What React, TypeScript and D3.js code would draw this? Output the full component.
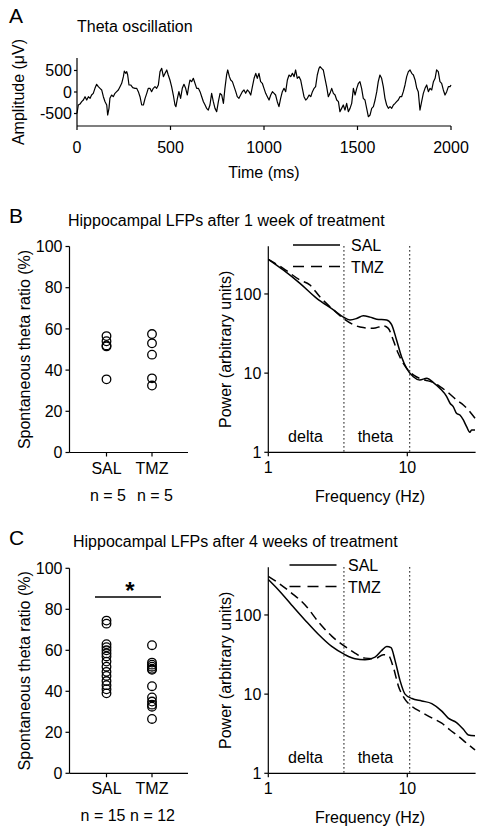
import React from "react";
import * as d3 from "d3";

const FONT = "'Liberation Sans', Arial, Helvetica, sans-serif";

// ---------- Panel A : theta trace ----------
const traceTime = [
  0,7,16,25,34,43,52,61,70,78,87,96,105,114,123,132,141,150,159,164,171,176,185,194,203,212,221,230,239,248,253,260,266,271,278,287,298,310,319,328,337,346,355,364,373,381,390,399,408,417,426,435,444,453,462,471,480,488,497,506,515,524,529,537,545,554,563,572,581,590,597,604,613,622,
  640,649,658,667,676,685,693,702,711,720,729,738,747,756,765,774,783,791,800,806,815,822,831,840,849,857,866,875,884,893,902,911,920,929,938,947,956,964,973,982,991,1000,1009,1018,1027,1036,1045,1054,1062,1071,1080,1089,1098,1107,1116,1125,1134,1143,1152,1161,1169,1178,1187,1196,1205,1214,1223,1232,1241,1250,1259,1268,1276,1285,1294,
  1300,1308,1317,1326,1335,1344,1353,1362,1371,1380,1389,1398,1406,1415,1424,1433,1442,1451,1460,1469,1478,1487,1496,1505,1513,1522,1531,1540,1549,1558,1567,1576,1585,1594,1603,1611,1620,1629,1638,1647,1656,1665,1674,1683,1692,1701,1709,1718,1727,1736,1745,1754,1763,1772,1781,1790,1799,1808,1817,1825,1834,1843,1852,1861,1870,1879,1888,1897,1906,1915,1923,1932,1941,1950,1959,1968,1977,1986,1995,2000,
];
const traceAmp = [
  -496,-302,-280,-225,-186,-109,-186,-109,-147,-70,-31,85,178,124,85,47,-109,-225,-302,-535,-380,-147,-70,-109,-31,8,47,124,202,357,488,434,473,395,163,163,100,85,85,8,-109,-302,-302,-147,-31,85,85,8,85,124,85,163,473,550,357,434,512,395,279,124,-70,-302,-341,-147,8,-147,85,178,85,-70,124,279,240,318,
  85,85,8,-109,-225,-302,-380,-419,-302,-31,-225,-380,-457,-225,-31,-70,-264,85,395,512,357,279,240,124,8,-109,-147,-70,8,47,-31,47,8,-70,124,318,434,318,434,240,202,85,-31,-109,-186,-70,8,-31,-70,-225,-341,-147,8,85,8,279,395,357,434,357,512,318,357,279,85,-109,-186,-147,-70,-109,8,85,124,395,550,
  589,550,512,318,124,-109,-31,85,-31,-70,-186,-225,-457,-380,-302,-419,-264,-457,-380,-264,85,-70,85,202,240,85,-147,-186,-380,-574,-535,-380,-341,-186,8,240,395,318,124,-147,-302,-380,-341,-380,-302,-264,-225,-186,-109,-109,8,163,357,473,512,434,395,279,85,8,-419,-225,-31,85,163,8,85,47,240,318,512,473,240,202,47,-70,8,124,124,163,
];
const timeTicks = [0, 500, 1000, 1500, 2000];
const ampTicks = [-500, 0, 500];

// ---------- Scatter data ----------
const groups = ["SAL", "TMZ"];
const bSal = [56.5, 54, 52, 51.5, 35.5];
const bTmz = [57.5, 53, 47.5, 36, 32.5];
const cSal = [74.5, 73, 63, 61.5, 60, 58.5, 57, 54.5, 52, 49.5, 47.5, 45, 43, 41, 39];
const cTmz = [62.5, 54, 53, 52, 51, 50.5, 42.5, 37, 35, 33.5, 32.5, 26.5];
const ratioTicks = [0, 20, 40, 60, 80, 100];
const bN = ["n = 5", "n = 5"];
const cN = ["n = 15", "n = 12"];

// ---------- Spectra ----------
const bSalFreq = [1, 1.28, 1.69, 2.23, 2.94, 3.47, 3.87, 4.32, 4.82, 5.39, 6.02, 7.1, 7.71, 8.38, 9.1, 9.89, 11.04, 12.3, 13.8, 15.4, 17.2, 19.2, 20.3, 21.4, 22.6, 23.9, 25.3, 26.7, 28.2, 29, 30.7];
const bSalPow = [274, 201, 136, 88, 63, 51, 47, 49, 53, 51, 48, 47, 41, 26, 16, 11.5, 9.0, 8.2, 8.6, 7.6, 6.4, 5.05, 4.16, 3.78, 3.11, 2.96, 2.56, 2.11, 1.79, 1.91, 1.91];
const bTmzFreq = [1, 1.28, 1.69, 1.99, 2.35, 2.94, 3.47, 4.08, 4.82, 5.69, 6.72, 7.3, 7.93, 8.6, 9.36, 10.1, 11.6, 13.4, 15.4, 17.2, 19.7, 22.6, 25.3, 28.2, 30.7];
const bTmzPow = [274, 211, 150, 130, 92, 63, 49, 41, 37.6, 36.8, 39.4, 36.8, 26, 17.8, 13.3, 11, 9.0, 8.2, 7.6, 6.75, 5.67, 4.58, 3.96, 3.26, 2.69];
const cSalFreq = [1, 1.18, 1.47, 1.84, 2.29, 2.86, 3.56, 4.2, 4.96, 5.86, 6.55, 7.11, 7.64, 8.16, 8.87, 9.63, 10.8, 12.7, 15, 17.7, 19.7, 22.6, 25.3, 27.5, 30.7];
const cSalPow = [280, 208, 134, 86, 57, 40, 31.5, 28, 27.2, 29.4, 35.7, 40, 38.6, 26.7, 14.8, 10, 8.8, 8.2, 7.6, 6.1, 4.97, 4.37, 3.6, 3.05, 2.97];
const cTmzFreq = [1, 1.18, 1.47, 1.84, 2.29, 2.86, 3.56, 4.2, 4.96, 5.86, 6.73, 7.3, 7.93, 8.61, 9.63, 10.8, 12.7, 15, 17.7, 20.2, 23, 26.7, 30.7];
const cTmzPow = [308, 254, 189, 134, 82, 54, 40, 33, 28.5, 28, 31.5, 30.8, 21.9, 12.8, 8.6, 7.0, 5.9, 5.0, 4.3, 3.55, 3.0, 2.4, 1.97];
const powTicks = [1, 10, 100];
const freqTicks = [1, 10];
const bandEdges = [3.5, 10.4];
const bandLabels = [
  { name: "delta", f: 1.85 },
  { name: "theta", f: 5.9 },
];

const FS = 16;

function ScatterPanel({ top0, top100, sal, tmz, nLabels, nX, sig }) {
  const y = d3.scaleLinear().domain([0, 100]).range([top0, top100]);
  const x = d3.scalePoint().domain(groups).range([106.5, 152]);
  const axX = 69.5;
  const series = [sal, tmz];
  return (
    <g>
      <line x1={axX} x2={axX} y1={y(0)} y2={y(100)} stroke="#000" strokeWidth={1.2} />
      <line x1={axX} x2={188} y1={y(0)} y2={y(0)} stroke="#000" strokeWidth={1.2} />
      {ratioTicks.map((t) => (
        <g key={t}>
          <line x1={axX - 4} x2={axX} y1={y(t)} y2={y(t)} stroke="#000" strokeWidth={1.2} />
          <text x={axX - 7} y={y(t)} dy="0.35em" textAnchor="end" fontSize={FS}>{t}</text>
        </g>
      ))}
      {groups.map((g, i) => (
        <g key={g}>
          <line x1={x(g)} x2={x(g)} y1={y(0)} y2={y(0) + 4} stroke="#000" strokeWidth={1.2} />
          <text x={x(g)} y={y(0) + 21} textAnchor="middle" fontSize={FS}>{g}</text>
          <text x={nX[i]} y={y(0) + 48} textAnchor="middle" fontSize={FS}>{nLabels[i]}</text>
          {series[i].map((v, j) => (
            <circle key={j} cx={x(g)} cy={y(v)} r={4.3} fill="none" stroke="#000" strokeWidth={1.3} />
          ))}
        </g>
      ))}
      <text transform={`translate(30,${(y(0) + y(100)) / 2}) rotate(-90)`} textAnchor="middle" fontSize={FS}>
        Spontaneous theta ratio (%)
      </text>
      {sig && (
        <g>
          <line x1={95} x2={161} y1={y(86)} y2={y(86)} stroke="#000" strokeWidth={1.3} />
          <text x={130} y={y(86) + 2} textAnchor="middle" fontSize={24} fontWeight="bold">*</text>
        </g>
      )}
    </g>
  );
}

function SpectrumPanel({ bottom, salF, salP, tmzF, tmzP, legX, legY, legTextX }) {
  const x = d3.scaleLog().domain([1, 31]).range([268.3, 475.6]);
  const y = d3.scaleLog().domain([1, 400]).range([bottom, bottom - 206]);
  const line = d3
    .line<[number, number]>()
    .x((d) => x(d[0]))
    .y((d) => y(d[1]))
    .curve(d3.curveMonotoneX);
  const sal = salF.map((f, i) => [f, salP[i]] as [number, number]);
  const tmz = tmzF.map((f, i) => [f, tmzP[i]] as [number, number]);
  return (
    <g>
      {bandEdges.map((f) => (
        <line key={f} x1={x(f)} x2={x(f)} y1={y(400)} y2={y(1)} stroke="#000" strokeWidth={1.2} strokeDasharray="1.2,2.8" />
      ))}
      <line x1={x(1)} x2={x(1)} y1={y(1)} y2={y(400)} stroke="#000" strokeWidth={1.2} />
      <line x1={x(1)} x2={x(31)} y1={y(1)} y2={y(1)} stroke="#000" strokeWidth={1.2} />
      {powTicks.map((t) => (
        <g key={t}>
          <line x1={x(1) - 4} x2={x(1)} y1={y(t)} y2={y(t)} stroke="#000" strokeWidth={1.2} />
          <text x={x(1) - 7} y={y(t)} dy="0.35em" textAnchor="end" fontSize={FS}>{t}</text>
        </g>
      ))}
      {freqTicks.map((t) => (
        <g key={t}>
          <line x1={x(t)} x2={x(t)} y1={y(1)} y2={y(1) + 4} stroke="#000" strokeWidth={1.2} />
          <text x={x(t)} y={y(1) + 21} textAnchor="middle" fontSize={FS}>{t}</text>
        </g>
      ))}
      <path d={line(sal) || ""} fill="none" stroke="#000" strokeWidth={1.5} />
      <path d={line(tmz) || ""} fill="none" stroke="#000" strokeWidth={1.5} strokeDasharray="9,5" />
      {bandLabels.map((b) => (
        <text key={b.name} x={x(b.f)} y={y(1) - 10} textAnchor="middle" fontSize={FS}>{b.name}</text>
      ))}
      <line x1={legX} x2={legX + 47} y1={legY} y2={legY} stroke="#000" strokeWidth={1.5} />
      <text x={legTextX} y={legY + 6} fontSize={FS}>SAL</text>
      <line x1={legX} x2={legX + 47} y1={legY + 21.5} y2={legY + 21.5} stroke="#000" strokeWidth={1.5} strokeDasharray="11,7" />
      <text x={legTextX} y={legY + 27.5} fontSize={FS}>TMZ</text>
      <text transform={`translate(231,${bottom - 103}) rotate(-90)`} textAnchor="middle" fontSize={FS}>
        Power (arbitrary units)
      </text>
      <text x={370} y={y(1) + 50} textAnchor="middle" fontSize={FS}>Frequency (Hz)</text>
    </g>
  );
}

export default function App() {
  const xA = d3.scaleLinear().domain([0, 2000]).range([77, 451]);
  const yA = d3.scaleLinear().domain([-790, 790]).range([126, 58]);
  const trace = d3
    .line<number>()
    .x((_, i) => xA(traceTime[i]))
    .y((d) => yA(d));
  return (
    <svg
      width={482}
      height={832}
      style={{ position: "absolute", left: 0, top: 0, background: "#fff" }}
      fontFamily={FONT}
      fill="#000"
    >
      <rect x={0} y={0} width={482} height={832} fill="#fff" />
      {/* Panel A */}
      <text x={9} y={23} fontSize={21}>A</text>
      <text x={77} y={32} fontSize={FS}>Theta oscillation</text>
      <line x1={77} x2={77} y1={58} y2={126} stroke="#000" strokeWidth={1.2} />
      <line x1={77} x2={451} y1={126} y2={126} stroke="#000" strokeWidth={1.2} />
      {ampTicks.map((t) => (
        <g key={t}>
          <line x1={74} x2={77} y1={yA(t)} y2={yA(t)} stroke="#000" strokeWidth={1.2} />
          <text x={72} y={yA(t)} dy="0.35em" textAnchor="end" fontSize={FS}>{t}</text>
        </g>
      ))}
      {timeTicks.map((t) => (
        <g key={t}>
          <line x1={xA(t)} x2={xA(t)} y1={126} y2={130} stroke="#000" strokeWidth={1.2} />
          <text x={xA(t)} y={153} textAnchor="middle" fontSize={FS}>{t}</text>
        </g>
      ))}
      <path d={trace(traceAmp) || ""} fill="none" stroke="#000" strokeWidth={1.2} strokeLinejoin="round" />
      <text transform="translate(24,92) rotate(-90)" textAnchor="middle" fontSize={FS}>Amplitude (μV)</text>
      <text x={264} y={178} textAnchor="middle" fontSize={FS}>Time (ms)</text>

      {/* Panel B */}
      <text x={9} y={223} fontSize={21}>B</text>
      <text x={68} y={226} fontSize={FS}>Hippocampal LFPs after 1 week of treatment</text>
      <ScatterPanel top0={452.5} top100={246.5} sal={bSal} tmz={bTmz} nLabels={bN} nX={[108, 155]} sig={false} />
      <SpectrumPanel bottom={452.3} salF={bSalFreq} salP={bSalPow} tmzF={bTmzFreq} tmzP={bTmzPow} legX={293} legY={245} legTextX={351} />

      {/* Panel C */}
      <text x={9} y={545} fontSize={21}>C</text>
      <text x={73} y={547} fontSize={FS}>Hippocampal LFPs after 4 weeks of treatment</text>
      <ScatterPanel top0={773.3} top100={568.3} sal={cSal} tmz={cTmz} nLabels={cN} nX={[103, 152.5]} sig={true} />
      <SpectrumPanel bottom={773.3} salF={cSalFreq} salP={cSalPow} tmzF={cTmzFreq} tmzP={cTmzPow} legX={289.5} legY={565} legTextX={348} />
    </svg>
  );
}
